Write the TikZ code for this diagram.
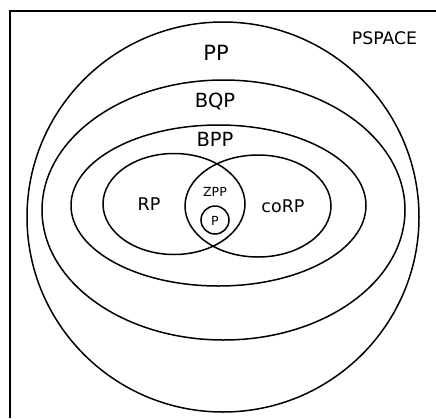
\documentclass[tikz,border=0pt]{standalone}
\usepackage{fontspec}
\setmainfont{DejaVu Sans}
\begin{document}
\begin{tikzpicture}[x=1pt,y=-1pt,
  setline/.style={line width=1.5pt},
  lbl/.style={anchor=base,inner sep=0pt},
  fA/.style={font=\fontsize{21}{23}\selectfont},
  fB/.style={font=\fontsize{19.5}{21}\selectfont},
  fC/.style={font=\fontsize{17.5}{19}\selectfont},
  fD/.style={font=\fontsize{17.3}{19}\selectfont},
  fE/.style={font=\fontsize{12.5}{14}\selectfont}]
\useasboundingbox (0,0) rectangle (436,418);
% frame (cropped box)
\draw[line width=2pt] (9.5,418) -- (9.5,10.5) -- (436,10.5);
% class regions
\draw[setline] (223,217) ellipse [x radius=196pt, y radius=195pt];
\draw[setline] (223.5,210) ellipse [x radius=181.5pt, y radius=130pt];
\draw[setline] (218.5,205.5) ellipse [x radius=147.5pt, y radius=80.5pt];
\draw[setline] (174,204) ellipse [x radius=71pt, y radius=50.5pt];
\draw[setline] (258,206) ellipse [x radius=73pt, y radius=51pt];
\node[setline, draw, circle, minimum size=28pt, inner sep=0pt] (pc) at (215,220) {};
% labels
\node[lbl,fD] (pspace) at (384.5,44) {PSPACE};
\node[lbl,fA] (pp) at (216,60) {PP};
\node[lbl,fB] (bqp) at (215,107) {BQP};
\node[lbl,fB] (bpp) at (215,146) {BPP};
\node[lbl,fC] (rp) at (149,210) {RP};
\node[lbl,fC] (corp) at (283,212) {coRP};
\node[lbl,fE] (zpp) at (215,196) {ZPP};
\node[lbl,fE] (p) at (215,225) {P};
\end{tikzpicture}
\end{document}
